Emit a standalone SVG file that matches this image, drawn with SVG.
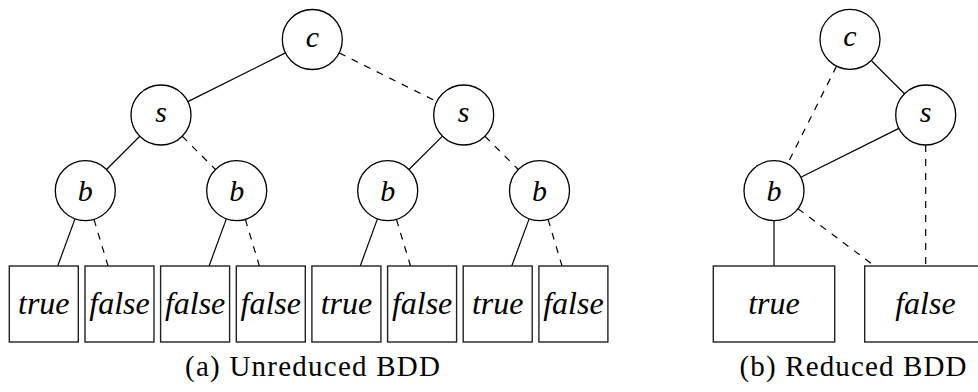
<svg xmlns="http://www.w3.org/2000/svg" width="978" height="392" viewBox="0 0 978 392">
  <style>
    .node { fill: #fff; stroke: #000; stroke-width: 1.3; }
    .leaf { fill: #fff; stroke: #222; stroke-width: 1.4; }
    .var { font-style: italic; font-size: 30px; text-anchor: middle; fill: #000; }
    .val { font-style: italic; font-size: 32px; text-anchor: middle; fill: #000; }
    .cap { font-size: 29px; text-anchor: middle; fill: #000; }
    .hi { stroke: #000; stroke-width: 1.2; fill: none; }
    .lo { stroke: #000; stroke-width: 1.2; fill: none; stroke-dasharray: 7 7; }
  </style>
  <rect width="978" height="392" fill="#fff"/>

  <!-- edges: solid = high branch, dashed = low branch -->
  <g id="edges">
    <!-- unreduced tree -->
    <line class="hi" x1="285.46" y1="52.90" x2="187.84" y2="101.60"/>
    <line class="lo" x1="339.14" y1="52.89" x2="436.86" y2="101.61"/>
    <line class="hi" x1="139.79" y1="136.21" x2="106.51" y2="169.49"/>
    <line class="lo" x1="182.21" y1="136.21" x2="215.49" y2="169.49"/>
    <line class="hi" x1="442.45" y1="136.17" x2="408.95" y2="169.53"/>
    <line class="lo" x1="484.92" y1="136.22" x2="518.28" y2="169.48"/>
    <line class="hi" x1="74.98" y1="218.87" x2="57.72" y2="266"/>
    <line class="lo" x1="93.97" y1="219.42" x2="108.03" y2="266"/>
    <line class="hi" x1="226.36" y1="218.86" x2="209.05" y2="266"/>
    <line class="lo" x1="245.35" y1="219.43" x2="259.36" y2="266"/>
    <line class="hi" x1="377.43" y1="218.89" x2="360.25" y2="266"/>
    <line class="lo" x1="396.42" y1="219.41" x2="410.56" y2="266"/>
    <line class="hi" x1="529.12" y1="218.85" x2="511.72" y2="266"/>
    <line class="lo" x1="548.10" y1="219.44" x2="562.03" y2="266"/>
    <!-- reduced diagram -->
    <line class="hi" x1="871.21" y1="60.51" x2="904.49" y2="93.79"/>
    <line class="lo" x1="836.54" y1="66.11" x2="787.46" y2="163.89"/>
    <line class="hi" x1="898.86" y1="128.40" x2="800.84" y2="177.30"/>
    <line class="lo" x1="925.7" y1="145" x2="925.7" y2="266"/>
    <line class="hi" x1="774" y1="220.7" x2="774" y2="266"/>
    <line class="lo" x1="798.02" y1="208.67" x2="874.62" y2="266"/>
  </g>

  <g font-family="'Liberation Serif', 'Times New Roman', serif">
    <!-- unreduced BDD -->
    <g id="a-c"><circle class="node" cx="312.3" cy="39.5" r="30"/><text class="var" x="312.3" y="46.5">c</text></g>
    <g id="a-s1"><circle class="node" cx="161" cy="115" r="30"/><text class="var" x="161" y="122">s</text></g>
    <g id="a-s2"><circle class="node" cx="463.7" cy="115" r="30"/><text class="var" x="463.7" y="122">s</text></g>
    <g id="a-b1"><circle class="node" cx="85.3" cy="190.7" r="30"/><text class="var" x="85.3" y="201">b</text></g>
    <g id="a-b2"><circle class="node" cx="236.7" cy="190.7" r="30"/><text class="var" x="236.7" y="201">b</text></g>
    <g id="a-b3"><circle class="node" cx="387.7" cy="190.7" r="30"/><text class="var" x="387.7" y="201">b</text></g>
    <g id="a-b4"><circle class="node" cx="539.5" cy="190.7" r="30"/><text class="var" x="539.5" y="201">b</text></g>

    <g id="a-t1"><rect class="leaf" x="9.3" y="266" width="69" height="76"/><text class="val" x="43.8" y="314">true</text></g>
    <g id="a-f1"><rect class="leaf" x="85.0" y="266" width="69" height="76"/><text class="val" x="119.5" y="314">false</text></g>
    <g id="a-f2"><rect class="leaf" x="160.6" y="266" width="69" height="76"/><text class="val" x="195.1" y="314">false</text></g>
    <g id="a-f3"><rect class="leaf" x="236.3" y="266" width="69" height="76"/><text class="val" x="270.8" y="314">false</text></g>
    <g id="a-t2"><rect class="leaf" x="311.9" y="266" width="69" height="76"/><text class="val" x="346.4" y="314">true</text></g>
    <g id="a-f4"><rect class="leaf" x="387.6" y="266" width="69" height="76"/><text class="val" x="422.1" y="314">false</text></g>
    <g id="a-t3"><rect class="leaf" x="463.2" y="266" width="69" height="76"/><text class="val" x="497.7" y="314">true</text></g>
    <g id="a-f5"><rect class="leaf" x="538.9" y="266" width="69" height="76"/><text class="val" x="573.4" y="314">false</text></g>

    <!-- reduced BDD -->
    <g id="b-c"><circle class="node" cx="850" cy="39.3" r="30"/><text class="var" x="850" y="46.3">c</text></g>
    <g id="b-s"><circle class="node" cx="925.7" cy="115" r="30"/><text class="var" x="925.7" y="122">s</text></g>
    <g id="b-b"><circle class="node" cx="774" cy="190.7" r="30"/><text class="var" x="774" y="201">b</text></g>
    <g id="b-t"><rect class="leaf" x="713.3" y="266" width="121.4" height="76"/><text class="val" x="774" y="314">true</text></g>
    <g id="b-f"><rect class="leaf" x="864.7" y="266" width="121.4" height="76"/><text class="val" x="925.4" y="314">false</text></g>

    <!-- captions -->
    <text class="cap" x="312.5" y="376" textLength="255">(a) Unreduced BDD</text>
    <text class="cap" x="853" y="376" textLength="227">(b) Reduced BDD</text>
  </g>
</svg>
